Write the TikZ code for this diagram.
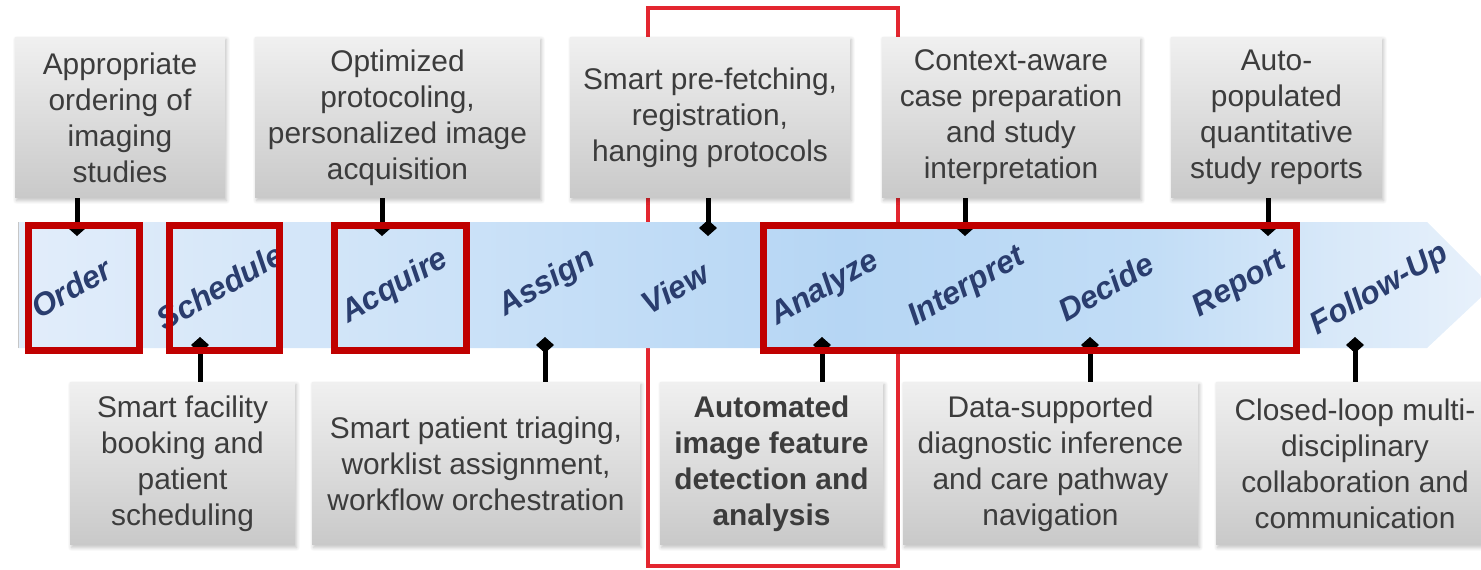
\documentclass[tikz,border=0pt]{standalone}
\usepackage{fontspec}
\setmainfont{Liberation Sans}
\usetikzlibrary{arrows.meta,shadows.blur}
\definecolor{boxtop}{HTML}{F0F0F0}
\definecolor{boxbot}{HTML}{C9C9C9}
\definecolor{txtgrey}{HTML}{3C3C3C}
\definecolor{navy}{HTML}{2A3D6E}
\definecolor{darkred}{HTML}{C00000}
\definecolor{linered}{HTML}{E3262F}
\definecolor{bc0}{HTML}{E2EDFA}
\definecolor{bc1}{HTML}{CCE2F8}
\definecolor{bc2}{HTML}{B6D6F4}
\definecolor{bc3}{HTML}{C2DDF6}
\definecolor{bc4}{HTML}{D9E9F9}
\definecolor{bc5}{HTML}{E8F1FB}
\pgfdeclarehorizontalshading{bandshade}{100bp}{color(0bp)=(bc0); color(25bp)=(bc0); color(39.5bp)=(bc1); color(53bp)=(bc2); color(63.5bp)=(bc3); color(70bp)=(bc4); color(75bp)=(bc5); color(100bp)=(bc5)}
\begin{document}
\begin{tikzpicture}[x=0.02cm,y=-0.02cm,
  gbox/.style={rectangle, inner sep=0pt, top color=boxtop, bottom color=boxbot,
    draw=none, text=txtgrey, align=center, font=\fontsize{17}{20.5}\selectfont,
    blur shadow={shadow xshift=0.03cm, shadow yshift=-0.05cm, shadow blur steps=6, shadow opacity=25}},
  tbox/.style={gbox, minimum height=3.22cm},
  bbox/.style={gbox, minimum height=3.26cm},
  stage/.style={font=\fontsize{18}{21}\selectfont\bfseries\itshape, text=navy, rotate=30, inner sep=0pt},
  conn/.style={line width=0.1cm, -{Diamond[length=0.32cm,width=0.36cm]}},
  hl/.style={draw=darkred, line width=0.15cm},
  redframe/.style={draw=linered, line width=0.07cm}
  ]
\useasboundingbox (0,0) rectangle (1481,569);

% thin red frame around the View column
\draw[redframe] (648,8) rectangle (898,566);

% process band
\shade[shading=bandshade]
  (18,222) -- (1427,222) -- (1492,287) -- (1427,348) -- (18,348) -- cycle;
\draw[gray!45, line width=0.02cm] (18,222) -- (18,348);

% top boxes
\node[tbox, minimum width=4.2cm]  (t1) at (120,117.5)   {Appropriate\\ordering of\\imaging\\studies};
\node[tbox, minimum width=5.7cm]  (t2) at (397.5,117.5) {Optimized\\protocoling,\\personalized image\\acquisition};
\node[tbox, minimum width=5.6cm]  (t3) at (710,117.5)   {Smart pre-fetching,\\registration,\\hanging protocols};
\node[tbox, minimum width=5.16cm] (t4) at (1011,117.5)  {Context-aware\\case preparation\\and study\\interpretation};
\node[tbox, minimum width=4.22cm] (t5) at (1276.5,117.5){Auto-\\populated\\quantitative\\study reports};

% bottom boxes
\node[bbox, minimum width=4.5cm]  (b1) at (182.5,463.5) {Smart facility\\booking and\\patient\\scheduling};
\node[bbox, minimum width=6.56cm] (b2) at (476,463.5)   {Smart patient triaging,\\worklist assignment,\\workflow orchestration};
\node[bbox, minimum width=4.46cm] (b3) at (771.5,463.5) {\bfseries Automated\\\bfseries image feature\\\bfseries detection and\\\bfseries analysis};
\node[bbox, minimum width=5.9cm]  (b4) at (1050.5,463.5){Data-supported\\diagnostic inference\\and care pathway\\navigation};
\node[bbox, minimum width=5.56cm] (b5) at (1355,463.5)  {Closed-loop multi-\\disciplinary\\collaboration and\\communication};

% stage labels
\node[stage] (sOrder)     at (71,288)   {Order};
\node[stage] (sSchedule)  at (220,287)  {Schedule};
\node[stage] (sAcquire)   at (395,287)  {Acquire};
\node[stage] (sAssign)    at (547,283)  {Assign};
\node[stage] (sView)      at (675,288)  {View};
\node[stage] (sAnalyze)   at (825,289)  {Analyze};
\node[stage] (sInterpret) at (967,288)  {Interpret};
\node[stage] (sDecide)    at (1106,287) {Decide};
\node[stage] (sReport)    at (1240,285) {Report};
\node[stage] (sFollow)    at (1380,290) {Follow-Up};

% connector end points on the band
\coordinate (pOrder)     at (77,236);
\coordinate (pAcquire)   at (382,236);
\coordinate (pView)      at (708,236);
\coordinate (pInterpret) at (965,236);
\coordinate (pReport)    at (1268,236);
\coordinate (pSchedule)  at (200,337);
\coordinate (pAssign)    at (545,337);
\coordinate (pAnalyze)   at (822,337);
\coordinate (pDecide)    at (1090,337);
\coordinate (pFollow)    at (1355,337);

\draw[conn] (t1.south -| pOrder)     -- (pOrder);
\draw[conn] (t2.south -| pAcquire)   -- (pAcquire);
\draw[conn] (t3.south -| pView)      -- (pView);
\draw[conn] (t4.south -| pInterpret) -- (pInterpret);
\draw[conn] (t5.south -| pReport)    -- (pReport);
\draw[conn] (b1.north -| pSchedule)  -- (pSchedule);
\draw[conn] (b2.north -| pAssign)    -- (pAssign);
\draw[conn] (b3.north -| pAnalyze)   -- (pAnalyze);
\draw[conn] (b4.north -| pDecide)    -- (pDecide);
\draw[conn] (b5.north -| pFollow)    -- (pFollow);

% highlight rectangles
\draw[hl] (28.5,225.5) rectangle (139.5,350.5);
\draw[hl] (169.5,225.5) rectangle (279.5,350.5);
\draw[hl] (334.5,225.5) rectangle (466.5,350.5);
\draw[hl] (763.5,225.5) rectangle (1296.5,350.5);
\end{tikzpicture}
\end{document}
